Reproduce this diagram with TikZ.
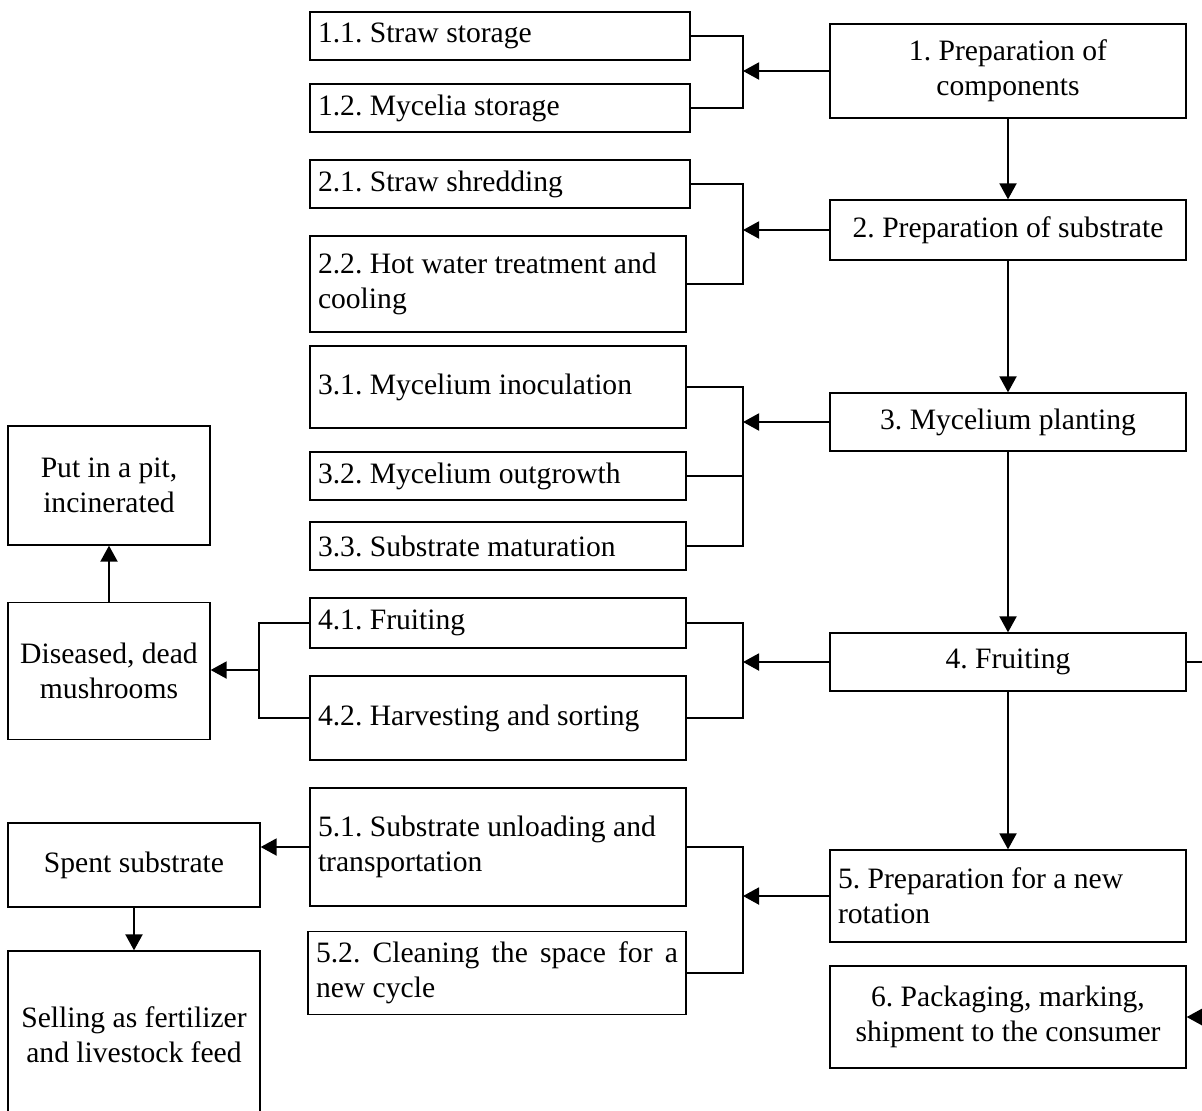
\documentclass[tikz,border=0pt]{standalone}
\usepackage{fontspec}
\setmainfont{Liberation Serif}
\frenchspacing
\usetikzlibrary{arrows.meta}

\tikzset{
  box/.style={draw, line width=0.65pt, inner ysep=2pt, font=\fontsize{14.8}{17.5}\selectfont},
  sub/.style={box, align=flush left, inner xsep=4pt},
  main/.style={box, align=flush center, minimum width=178pt},
  side/.style={box, align=flush center},
  link/.style={line width=0.6pt},
  arr/.style={line width=1pt, -{Triangle[length=8pt,width=8.5pt]}},
}

\begin{document}
\begin{tikzpicture}[x=0.5pt,y=-0.5pt]
  \useasboundingbox (0,0) rectangle (1202,1110);
  \clip (0,0) rectangle (1202,1110);

  % main stages
  \node[main, minimum height=47pt] (p1) at (1008,71) {1. Preparation of\\components};
  \node[main, minimum height=30pt] (p2) at (1008,230) {2. Preparation of substrate};
  \node[main, minimum height=29pt] (p3) at (1008,422) {3. Mycelium planting};
  \node[main, minimum height=29pt] (p4) at (1008,662) {4. Fruiting};
  \node[box, align=flush left, inner xsep=4pt, text width=170pt, minimum height=46pt] (p5) at (1008,896) {5. Preparation for a new\\rotation};
  \node[main, minimum height=51pt] (p6) at (1008,1017) {6. Packaging, marking,\\shipment to the consumer};

  % sub-stages
  \node[sub, text width=182pt, minimum height=24pt] (s11) at (500,36) {1.1. Straw storage};
  \node[sub, text width=182pt, minimum height=24pt] (s12) at (500,108) {1.2. Mycelia storage};
  \node[sub, text width=182pt, minimum height=24pt] (s21) at (500,184) {2.1. Straw shredding};
  \node[sub, text width=180pt, minimum height=48pt] (s22) at (498,284) {2.2. Hot water treatment and\\cooling};
  \node[sub, text width=180pt, minimum height=41pt] (s31) at (498,387) {3.1. Mycelium inoculation};
  \node[sub, text width=180pt, minimum height=24pt] (s32) at (498,476) {3.2. Mycelium outgrowth};
  \node[sub, text width=180pt, minimum height=24pt] (s33) at (498,546) {3.3. Substrate maturation};
  \node[sub, text width=180pt, minimum height=25pt] (s41) at (498,623) {4.1. Fruiting};
  \node[sub, text width=180pt, minimum height=42pt] (s42) at (498,718) {4.2. Harvesting and sorting};
  \node[sub, text width=180pt, minimum height=59pt] (s51) at (498,847) {5.1. Substrate unloading and\\transportation};
  \node[sub, text width=181pt, minimum height=41.5pt] (s52) at (497,973) {\makebox[\linewidth][s]{5.2. Cleaning the space for a}\\new cycle};

  % waste and by-products
  \node[side, minimum width=101pt, minimum height=59.5pt] (pit) at (109,485.5) {Put in a pit,\\incinerated};
  \node[side, minimum width=101pt, minimum height=68.5pt] (dis) at (109,671) {Diseased, dead\\mushrooms};
  \node[side, minimum width=126pt, minimum height=42pt] (spent) at (134,865) {Spent substrate};
  \node[side, minimum width=126pt, minimum height=84pt] (sell) at (134,1035) {Selling as fertilizer\\and livestock feed};

  % junctions
  \coordinate (j1) at (743,71);
  \coordinate (j2) at (743,230);
  \coordinate (j3) at (743,422);
  \coordinate (j4) at (743,662);
  \coordinate (j5) at (743,896);
  \coordinate (k4) at (259,670);
  \coordinate (e4) at (1202,662);
  \coordinate (e6) at (1202,1017);

  \draw[arr] (p1) -- (p2);
  \draw[arr] (p2) -- (p3);
  \draw[arr] (p3) -- (p4);
  \draw[arr] (p4) -- (p5);

  \draw[link] (s11.east) -| (j1) |- (s12.east);
  \draw[link] (s21.east) -| (j2) |- (s22.east);
  \draw[link] (s31.east) -| (j3) |- (s33.east);
  \draw[link] (s32.east) -- (s32.east -| j3);
  \draw[link] (s41.east) -| (j4) |- (s42.east);
  \draw[link] (s51.east) -| (j5) |- (s52.east);
  \draw[arr] (p1.west) -- (j1);
  \draw[arr] (p2.west) -- (j2);
  \draw[arr] (p3.west) -- (j3);
  \draw[arr] (p4.west) -- (j4);
  \draw[arr] (p5.west) -- (j5);

  \draw[link] (s41.west) -| (k4) |- (s42.west);
  \draw[arr] (k4) -- (k4 -| dis.east);
  \draw[arr] (dis) -- (pit);
  \draw[arr] (s51.west) -- (s51.west -| spent.east);
  \draw[arr] (spent) -- (sell);

  \draw[link] (p4.east) -- (e4);
  \draw[arr] (e6) -- (p6.east);
\end{tikzpicture}
\end{document}
